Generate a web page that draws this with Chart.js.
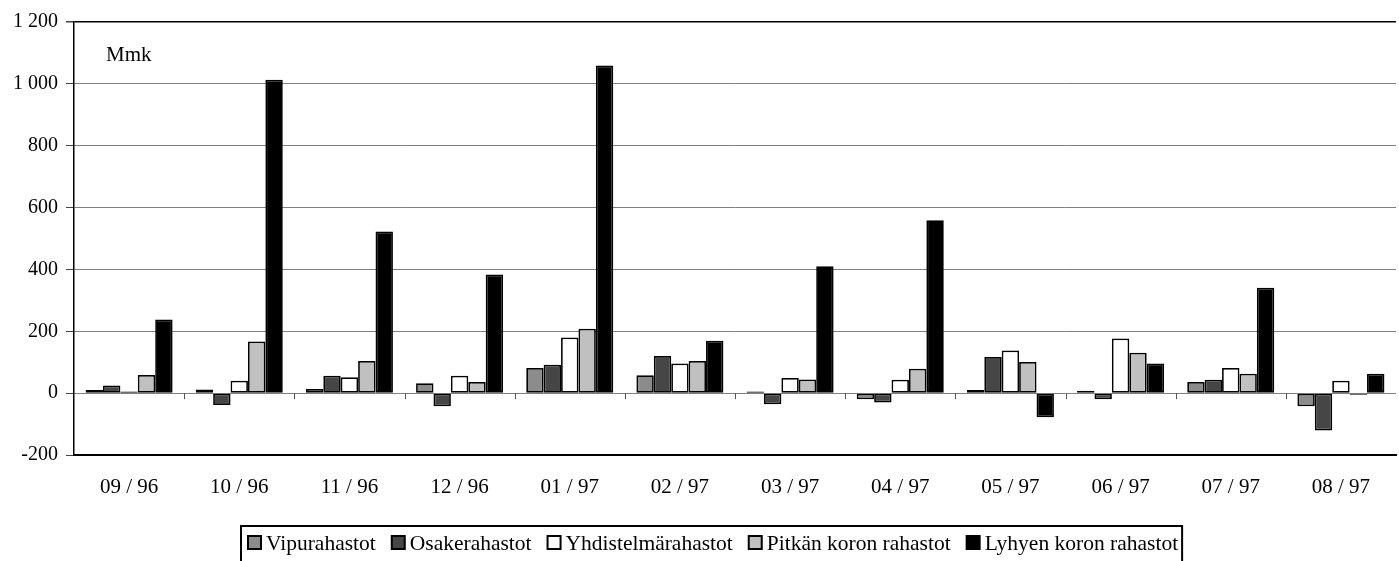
<!DOCTYPE html>
<html>
<head>
<meta charset="utf-8">
<script src="https://cdn.jsdelivr.net/npm/chart.js@4/dist/chart.umd.min.js"></script>
<style>
  body { margin: 0; background: #fff; }
  #wrap { width: 1399px; height: 561px; }
</style>
</head>
<body>
<div id="wrap"><canvas id="grafico"></canvas></div>
<script>
const categories = ['09 / 96', '10 / 96', '11 / 96', '12 / 96', '01 / 97', '02 / 97',
                    '03 / 97', '04 / 97', '05 / 97', '06 / 97', '07 / 97', '08 / 97'];
const seriesNames = ['Vipurahastot', 'Osakerahastot', 'Yhdistelmärahastot',
                     'Pitkän koron rahastot', 'Lyhyen koron rahastot'];
const vipurahastot = [10, 12, 13, 32, 81, 58, 5, -20, 10, 8, 36, -42];
const osakerahastot = [25, -38, 56, -42, 92, 120, -36, -30, 117, -20, 43, -121];
const yhdistelmarahastot = [5, 40, 51, 56, 180, 96, 49, 43, 138, 177, 81, 40];
const pitkanKoron = [59, 167, 104, 36, 208, 104, 44, 79, 101, 131, 63, -5];
const lyhyenKoron = [238, 1013, 523, 384, 1059, 169, 410, 559, -78, 96, 341, 63];
const yTicks = [-200, 0, 200, 400, 600, 800, 1000, 1200];
const unitLabel = 'Mmk';

const colors = ['#8c8c8c', '#464646', '#ffffff', '#c0c0c0', '#000000'];
const values = [vipurahastot, osakerahastot, yhdistelmarahastot, pitkanKoron, lyhyenKoron];
const FONT = '"Liberation Serif", "Times New Roman", serif';

// tick marks on the zero line between groups + "Mmk" + boxed legend
const extras = {
  id: 'extras',
  afterDatasetsDraw(chart) {
    const ctx = chart.ctx;
    const x = chart.scales.x, y = chart.scales.y;
    const y0 = y.getPixelForValue(0);
    ctx.save();
    ctx.strokeStyle = '#555';
    ctx.lineWidth = 1;
    for (let i = 1; i < categories.length; i++) {
      const px = Math.round((x.getPixelForTick(i - 1) + x.getPixelForTick(i)) / 2) + 0.5;
      ctx.beginPath();
      ctx.moveTo(px, y0);
      ctx.lineTo(px, y0 + 6);
      ctx.stroke();
    }
    ctx.restore();
  },
  afterDraw(chart) {
    const ctx = chart.ctx;
    ctx.save();
    ctx.fillStyle = '#000';
    ctx.font = '21px ' + FONT;
    ctx.textBaseline = 'alphabetic';
    ctx.fillText(unitLabel, 106, 61);

    // legend
    ctx.font = '21.5px ' + FONT;
    const top = 526, left = 241;
    let cx = 248;
    seriesNames.forEach((name, i) => {
      ctx.fillStyle = colors[i];
      ctx.fillRect(cx, 536, 13, 13);
      ctx.strokeStyle = '#000';
      ctx.lineWidth = 2;
      ctx.strokeRect(cx, 536, 13, 13);
      ctx.fillStyle = '#000';
      ctx.fillText(name, cx + 18, 550);
      cx += 18 + ctx.measureText(name).width + 16;
    });
    ctx.strokeStyle = '#000';
    ctx.lineWidth = 2;
    ctx.strokeRect(left, top, cx - left - 12, 60);
    ctx.restore();
  }
};

new Chart(document.getElementById('grafico'), {
  type: 'bar',
  data: {
    labels: categories,
    datasets: seriesNames.map((name, i) => ({
      label: name,
      data: values[i],
      backgroundColor: colors[i],
      borderColor: '#000',
      borderWidth: 1.75,
      borderSkipped: false,
      categoryPercentage: 0.79,
      barPercentage: 1
    }))
  },
  options: {
    responsive: true,
    maintainAspectRatio: false,
    animation: false,
    layout: { padding: { top: 22, right: 3, left: 0, bottom: 0 } },
    plugins: {
      legend: { display: false },
      tooltip: { enabled: false }
    },
    scales: {
      x: {
        grid: { display: false },
        border: { display: true, color: '#000', width: 2 },
        ticks: { color: '#000', font: { family: FONT, size: 21 }, padding: 12, maxRotation: 0 },
        afterFit(scale) { scale.height = 106; }
      },
      y: {
        min: -200,
        max: 1200,
        afterBuildTicks(scale) { scale.ticks = yTicks.map(v => ({ value: v })); },
        grid: {
          color: c => (c.tick && c.tick.value === 1200) ? '#000' : '#808080',
          lineWidth: c => (c.tick && c.tick.value === 1200) ? 1.5 : 1,
          tickLength: 8,
          tickColor: '#444'
        },
        border: { display: true, color: '#000', width: 1.5 },
        ticks: {
          color: '#000',
          padding: 8,
          font: { family: FONT, size: 20 },
          callback: v => String(v).replace(/\B(?=(\d{3})+(?!\d))/g, ' ')
        },
        afterFit(scale) { scale.width = 74; }
      }
    }
  },
  plugins: [extras]
});
</script>
</body>
</html>
